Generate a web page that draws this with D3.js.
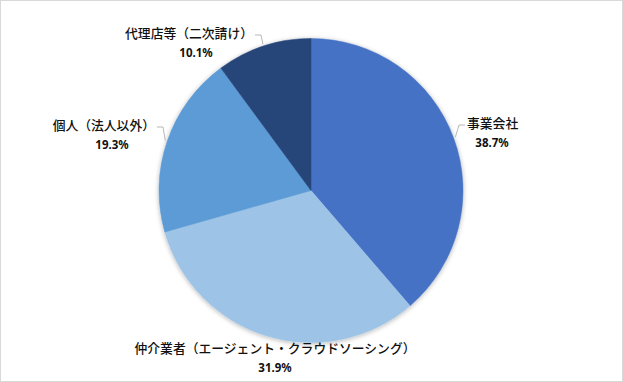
<!DOCTYPE html>
<html><head><meta charset="utf-8">
<script src="https://cdn.jsdelivr.net/npm/d3@7"></script>
<style>html,body{margin:0;padding:0;background:#fff;}svg{display:block;}</style>
</head><body>
<svg id="chart" width="623" height="382"></svg>
<script>
const categories = ["事業会社", "仲介業者（エージェント・クラウドソーシング）", "個人（法人以外）", "代理店等（二次請け）"];
const values = [38.7, 31.9, 19.3, 10.1];
const valueLabels = ["38.7%", "31.9%", "19.3%", "10.1%"];
const colors = ["#4472C4", "#9DC3E6", "#5B9BD5", "#264478"];
// label layout: name-line center position and text anchor, plus whether to draw a leader
const labelLayout = [
  {x: 467, y: 122, anchor: "start", leader: true, pctDx: 25},
  {x: 275, y: 347, anchor: "middle", leader: false, pctDx: 0},
  {x: 155, y: 124, anchor: "end", leader: true, pctDx: -43},
  {x: 253, y: 32, anchor: "end", leader: true, pctDx: -57}
];

const W = 623, H = 382;
const cx = 311, cy = 190.5, R = 152;
const svg = d3.select("#chart");

svg.append("rect").attr("x", 0.5).attr("y", 0.5).attr("width", W - 1).attr("height", H - 1)
  .attr("fill", "#fff").attr("stroke", "#d9d9d9");

const defs = svg.append("defs");
const f = defs.append("filter").attr("id", "sh").attr("x", "-20%").attr("y", "-20%").attr("width", "140%").attr("height", "140%");
f.append("feGaussianBlur").attr("in", "SourceAlpha").attr("stdDeviation", 2.5).attr("result", "b");
f.append("feOffset").attr("in", "b").attr("dx", 0).attr("dy", 1).attr("result", "o");
f.append("feComponentTransfer").attr("in", "o").attr("result", "o2")
  .append("feFuncA").attr("type", "linear").attr("slope", 0.3);
const m = f.append("feMerge");
m.append("feMergeNode").attr("in", "o2");
m.append("feMergeNode").attr("in", "SourceGraphic");

const pie = d3.pie().sort(null).value(d => d);
const arcs = pie(values);
const arc = d3.arc().innerRadius(0).outerRadius(R);

const g = svg.append("g").attr("transform", `translate(${cx},${cy})`);
const sg = g.append("g").attr("filter", "url(#sh)");
sg.selectAll("path").data(arcs).join("path")
  .attr("d", arc)
  .attr("fill", (d, i) => colors[i])
  .attr("stroke", (d, i) => colors[i])
  .attr("stroke-width", 0.5);

// leaders
const outer = d3.arc().innerRadius(R + 2).outerRadius(R + 2);
arcs.forEach((d, i) => {
  const L = labelLayout[i];
  if (!L.leader) return;
  const p = outer.centroid(d);
  const ax = p[0] + cx, ay = p[1] + cy;
  const ex = L.anchor === "start" ? L.x - 2 : L.x + 2;
  const ey = L.y + 3;
  const dir = L.anchor === "start" ? -1 : 1;
  const elbowX = ex + dir * 6;
  svg.append("polyline")
    .attr("points", `${ax},${ay} ${elbowX},${ey} ${ex},${ey}`)
    .attr("fill", "none").attr("stroke", "#a6a6a6").attr("stroke-width", 0.8);
});

const tg = svg.append("g");
categories.forEach((c, i) => {
  const L = labelLayout[i];
  tg.append("text")
    .attr("x", L.x).attr("y", L.y)
    .attr("text-anchor", L.anchor)
    .attr("dominant-baseline", "central")
    .attr("font-family", "'Noto Sans CJK JP', sans-serif")
    .attr("font-size", 12.8)
    .attr("font-weight", 500)
    .attr("fill", "#111")
    .text(c);
  tg.append("text")
    .attr("x", L.x + L.pctDx).attr("y", L.y + 20)
    .attr("text-anchor", "middle")
    .attr("dominant-baseline", "central")
    .attr("font-family", "'Noto Sans', sans-serif")
    .attr("font-size", 11.5)
    .attr("font-weight", "bold")
    .attr("fill", "#111")
    .text(valueLabels[i]);
});
</script>
</body></html>
